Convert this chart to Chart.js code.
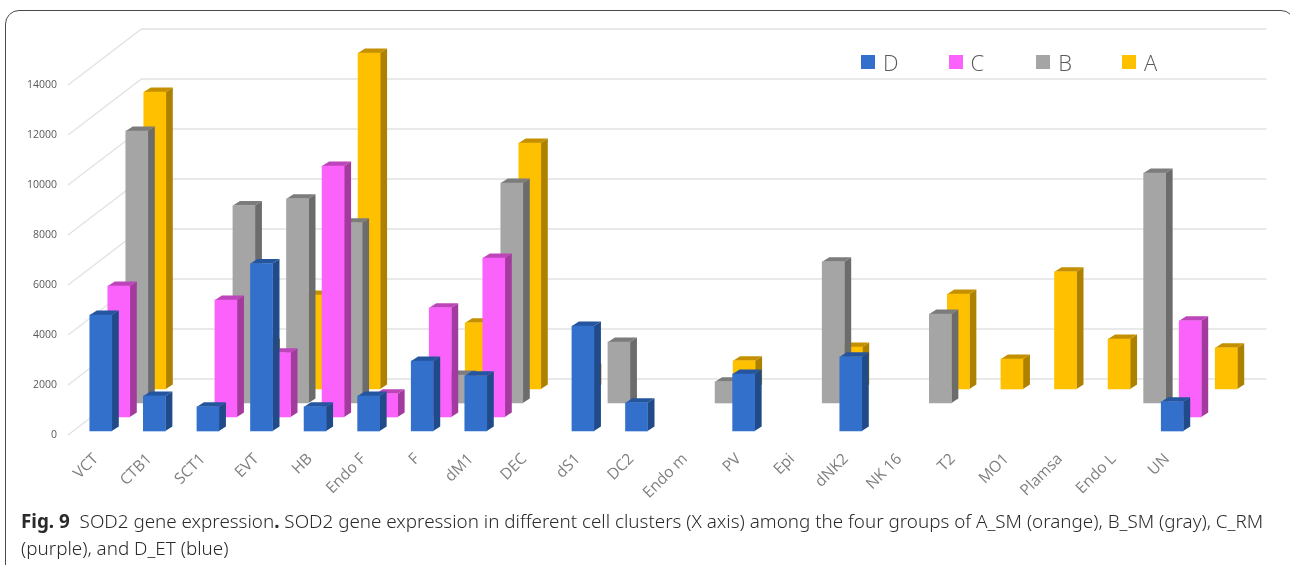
<!DOCTYPE html>
<html>
<head>
<meta charset="utf-8">
<title>SOD2 gene expression</title>
<script src="https://cdn.jsdelivr.net/npm/chart.js@4"></script>
<style>
  html, body { margin: 0; padding: 0; background: #fff; overflow: hidden; }
  #page { position: relative; width: 1290px; height: 565px; overflow: hidden; }
  #card { position: absolute; left: 5px; top: 10px; width: 1290px; height: 600px;
          border: 1.4px solid #4a4a4a; border-radius: 14px; box-sizing: border-box; }
  #chart { position: absolute; left: 0; top: 0; }
  #caption { position: absolute; left: 21px; top: 508px; width: 1265px; color: #2a2a2a;
             font: 300 18.83px/27px "Noto Sans", sans-serif; white-space: nowrap; }
  #caption b { font-weight: 700; }
  #legend { position: absolute; left: 861px; top: 44px; display: flex; color: #595959;
            font: 300 22px/36px "Open Sans", sans-serif; }
  #legend span.item { display: flex; align-items: center; }
  #legend i { display: block; width: 14px; height: 14px; margin-right: 8px; }
</style>
</head>
<body>
<div id="page">
  <div id="card"></div>
  <canvas id="chart" width="1290" height="565"></canvas>
  <div id="legend"></div>
  <div id="caption"><b>Fig. 9</b>&nbsp; SOD2 gene expression<b>.</b> SOD2 gene expression in different cell clusters (X axis) among the four groups of A_SM (orange), B_SM (gray), C_RM<br>(purple), and D_ET (blue)</div>
</div>
<script>
const categories = ["VCT", "CTB1", "SCT1", "EVT", "HB", "Endo F", "F", "dM1", "DEC", "dS1", "DC2",
                    "Endo m", "PV", "Epi", "dNK2", "NK 16", "T2", "MO1", "Plamsa", "Endo L", "UN"];

const seriesD = [4640, 1400, 970, 6700, 970, 1400, 2800, 2210, null, 4200, 1130, null, 2280, null, 2970, null, null, null, null, null, 1170];
const seriesC = [5240, null, 4680, 2570, 10040, 930, 4370, 6360, null, null, null, null, null, null, null, null, null, null, null, null, 3850];
const seriesB = [10880, null, 7900, 8170, 7210, null, 1120, 8800, null, 2440, null, 850, null, 5650, null, 3560, null, null, null, 9200, null];
const seriesA = [11880, null, 1840, 3760, 13440, null, 2650, 9840, 840, null, null, 1130, null, 1680, null, 3800, 1200, 4690, 2000, null, 1650];

const yTicksMax = 14000;
const yTickStep = 2000;

// front, side, top colour of every series
const faceD = ["#3370cc", "#204a88", "#24559e"];
const faceC = ["#fb62fb", "#a33a9e", "#bc46b9"];
const faceB = ["#a5a5a5", "#6c6c6c", "#7c7c7c"];
const faceA = ["#ffc000", "#ad8000", "#c49000"];

// how far each row sits back on the floor of the 3d box
const depthD = [0, -4];
const depthC = [18, -18];
const depthB = [36, -32];
const depthA = [54, -46];

const sideW = 7, sideH = 4.5;

function makeSet(label, data, face, depth){
    return {
        label: label,
        data: data,
        backgroundColor: face[0],
        borderWidth: 0,
        barThickness: 22,
        clip: false,
        face: face,
        depth: depth
    };
}

function poly(ctx, color, pts){
    ctx.fillStyle = color;
    ctx.beginPath();
    pts.forEach((p, i) => i ? ctx.lineTo(p[0], p[1]) : ctx.moveTo(p[0], p[1]));
    ctx.closePath();
    ctx.fill();
}

// wall lines: diagonal up from the tick label, then flat along the back wall
const wallPlugin = {
    id: "wall",
    beforeDatasetsDraw(chart){
        const ctx = chart.ctx, sc = chart.scales.y;
        ctx.save();
        ctx.strokeStyle = "#e2e2e2";
        ctx.lineWidth = 1.3;
        sc.ticks.forEach(t => {
            const y = sc.getPixelForValue(t.value);
            ctx.beginPath();
            ctx.moveTo(68, y);
            ctx.lineTo(141.5, y - 56);
            ctx.lineTo(1266.5, y - 56);
            ctx.stroke();
        });
        ctx.restore();
    }
};

// shifts a row back and adds the side and top faces to its bars
const depthPlugin = {
    id: "depth",
    beforeDatasetDraw(chart, args){
        const ds = chart.data.datasets[args.index], ctx = chart.ctx;
        ctx.save();
        ctx.translate(ds.depth[0], ds.depth[1]);
        args.meta.data.forEach((bar, i) => {
            if(ds.data[i] === null) return;
            const l = bar.x - bar.width / 2, r = bar.x + bar.width / 2;
            poly(ctx, ds.face[1], [[r, bar.y], [r + sideW, bar.y - sideH], [r + sideW, bar.base - sideH], [r, bar.base]]);
            poly(ctx, ds.face[2], [[l, bar.y], [l + sideW, bar.y - sideH], [r + sideW, bar.y - sideH], [r, bar.y]]);
        });
    },
    afterDatasetDraw(chart){
        chart.ctx.restore();
    }
};

const chart = new Chart(document.getElementById("chart"), {
    type: "bar",
    data: {
        labels: categories,
        datasets: [
            makeSet("D", seriesD, faceD, depthD),
            makeSet("C", seriesC, faceC, depthC),
            makeSet("B", seriesB, faceB, depthB),
            makeSet("A", seriesA, faceA, depthA)
        ]
    },
    plugins: [wallPlugin, depthPlugin],
    options: {
        responsive: false,
        animation: false,
        layout: { padding: { top: 85, right: 91, bottom: 30, left: 0 } },
        plugins: {
            tooltip: { enabled: false },
            legend: { display: false }
        },
        scales: {
            x: {
                border: { display: false },
                grid: { display: false },
                afterFit(sc){ sc.height = 100; },
                ticks: {
                    autoSkip: false,
                    minRotation: 45,
                    maxRotation: 45,
                    padding: 7,
                    labelOffset: -5,
                    color: "#7f7f7f",
                    font: { family: "'Open Sans'", size: 15.5 }
                }
            },
            y: {
                min: 0,
                max: yTicksMax,
                border: { display: false },
                grid: { display: false, drawTicks: false },
                afterFit(sc){ sc.width = 74; },
                ticks: {
                    stepSize: yTickStep,
                    padding: 17,
                    color: "#595959",
                    font: { family: "'Open Sans'", size: 10.5 },
                    callback: v => String(v)
                }
            }
        },
        datasets: { bar: { grouped: false } }
    }
});

// legend built from the datasets, spaced as in the figure
const legendGaps = [50, 52, 50, 0];
document.getElementById("legend").innerHTML = chart.data.datasets.map((ds, i) =>
    `<span class="item" style="margin-right:${legendGaps[i]}px"><i style="background:${ds.backgroundColor}"></i>${ds.label}</span>`
).join("");
</script>
</body>
</html>
